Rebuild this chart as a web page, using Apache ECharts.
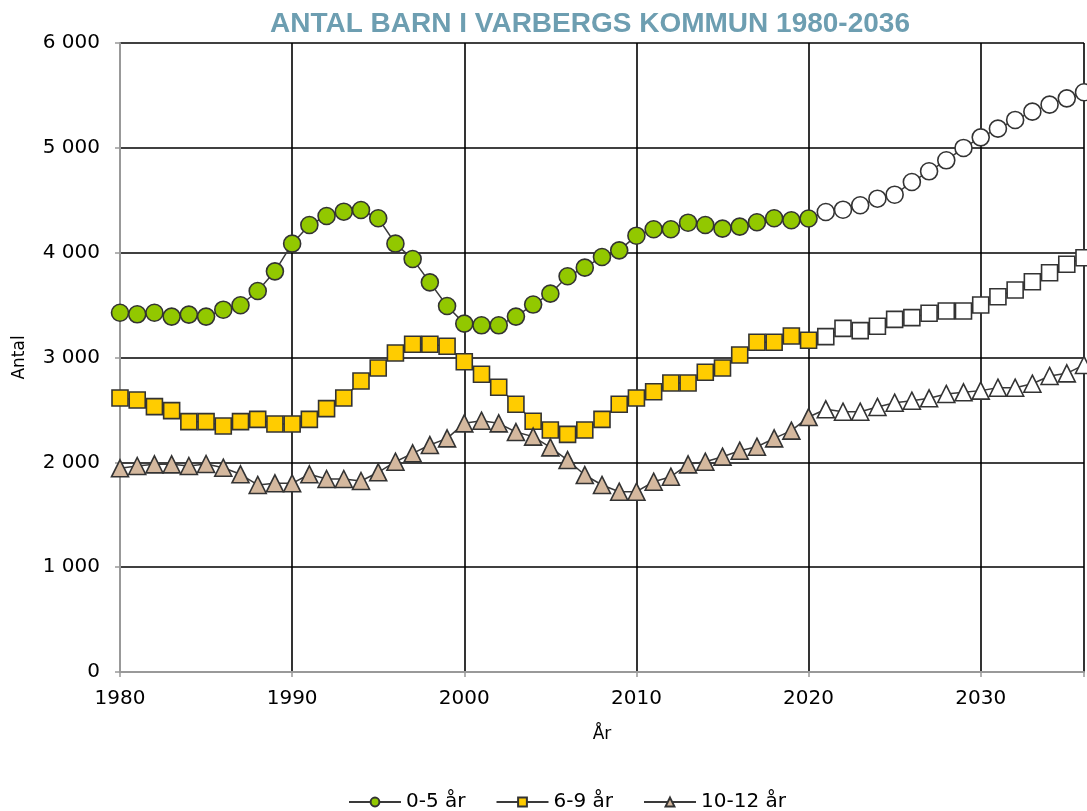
<!DOCTYPE html>
<html>
<head>
<meta charset="utf-8">
<title>Antal barn i Varbergs kommun 1980-2036</title>
<script src="https://cdn.jsdelivr.net/npm/echarts@6/dist/echarts.min.js"></script>
<style>
  html, body { margin: 0; padding: 0; background: #fff; }
  #chart { width: 1087px; height: 811px; }
</style>
</head>
<body>
<div id="chart"></div>
<script>
// år 1980-2036, prognos från 2021
var years = [];
for (var y = 1980; y <= 2036; y++) years.push(y);
var prognosStart = 2021;

var barn0_5 = [
  3427, 3412, 3427, 3390, 3409, 3390, 3456, 3498, 3634, 3822,
  4086, 4264, 4350, 4391, 4407, 4328, 4086, 3940, 3717, 3491,
  3323, 3307, 3307, 3390, 3505, 3609, 3775, 3857, 3959, 4022,
  4162, 4223, 4223, 4286, 4264, 4229, 4248, 4290, 4328, 4309,
  4326, 4388, 4410, 4452, 4515, 4553, 4674, 4776, 4881, 4999,
  5100, 5183, 5266, 5345, 5412, 5472, 5530
];
var barn6_9 = [
  2614, 2595, 2531, 2493, 2388, 2388, 2347, 2388, 2410, 2366,
  2366, 2410, 2512, 2614, 2776, 2900, 3043, 3126, 3126, 3107,
  2960, 2840, 2716, 2554, 2392, 2308, 2267, 2308, 2410, 2554,
  2614, 2674, 2757, 2757, 2859, 2900, 3024, 3145, 3145, 3205,
  3165, 3199, 3278, 3256, 3298, 3364, 3380, 3422, 3444, 3444,
  3501, 3580, 3644, 3723, 3809, 3889, 3952
];
var barn10_12 = [
  1943, 1965, 1981, 1981, 1965, 1984, 1949, 1886, 1784, 1800,
  1800, 1886, 1841, 1841, 1822, 1905, 2006, 2086, 2165, 2229,
  2372, 2397, 2372, 2289, 2245, 2143, 2022, 1879, 1784, 1720,
  1720, 1815, 1863, 1981, 2006, 2054, 2111, 2149, 2229, 2302,
  2432, 2506, 2483, 2483, 2528, 2569, 2588, 2611, 2652, 2668,
  2684, 2712, 2712, 2750, 2824, 2849, 2929
];

var labelFont = "'DejaVu Sans', 'Liberation Sans', sans-serif";

// prognosår ritas med vita markörer
function toData(values) {
  return values.map(function (v, i) {
    var item = { value: [years[i], v] };
    if (years[i] >= prognosStart) item.itemStyle = { color: "#FFFFFF" };
    return item;
  });
}

function makeSeries(name, values, symbol, size, color) {
  return {
    name: name,
    type: "line",
    data: toData(values),
    symbol: symbol,
    symbolSize: size,
    showAllSymbol: true,
    clip: false,
    animation: false,
    lineStyle: { color: "#3a3a3a", width: 1.5 },
    itemStyle: { color: color, borderColor: "#333333", borderWidth: 1.6 },
    emphasis: { disabled: true }
  };
}

var myChart = echarts.init(document.getElementById("chart"));
var option = {
  backgroundColor: "#FFFFFF",
  title: {
    text: "ANTAL BARN I VARBERGS KOMMUN 1980-2036",
    left: 585,
    textAlign: "center",
    top: 5,
    textStyle: {
      fontFamily: "'Liberation Sans Narrow', 'Arial Narrow', 'Liberation Sans', sans-serif",
      fontWeight: "bold",
      fontSize: 28,
      color: "#6D9EB1"
    }
  },
  grid: { left: 120, right: 1.5, top: 43, bottom: 139 },
  legend: {
    top: 787,
    left: 343,
    itemWidth: 52,
    itemHeight: 11,
    itemGap: 30,
    textStyle: { fontFamily: labelFont, fontSize: 20, color: "#000" },
    data: ["0-5 år", "6-9 år", "10-12 år"]
  },
  xAxis: {
    type: "value",
    min: 1980,
    max: 2036,
    interval: 10,
    name: "År",
    nameLocation: "middle",
    nameGap: 54,
    nameTextStyle: { fontFamily: labelFont, fontSize: 17, color: "#000" },
    axisLine: { show: true, onZero: false, lineStyle: { color: "#999999", width: 2 } },
    axisTick: { show: true, length: 5, lineStyle: { color: "#999999", width: 1.5 } },
    axisLabel: {
      margin: 17,
      fontFamily: labelFont,
      fontSize: 20,
      color: "#000",
      formatter: function (v) { return v % 10 === 0 ? String(v) : ""; }
    },
    splitLine: { show: true, lineStyle: { color: "#000000", width: 1.6 } }
  },
  yAxis: {
    type: "value",
    min: 0,
    max: 6000,
    interval: 1000,
    name: "Antal",
    nameLocation: "middle",
    nameGap: 92,
    nameRotate: 90,
    nameTextStyle: { fontFamily: labelFont, fontSize: 17, color: "#000" },
    axisLine: { show: true, lineStyle: { color: "#999999", width: 2 } },
    axisTick: { show: true, length: 5, lineStyle: { color: "#999999", width: 1.5 } },
    axisLabel: {
      margin: 20,
      fontFamily: labelFont,
      fontSize: 20,
      color: "#000",
      formatter: function (v) {
        return String(v).replace(/\B(?=(\d{3})+(?!\d))/g, " ");
      }
    },
    splitLine: { show: true, lineStyle: { color: "#000000", width: 1.6 } }
  },
  series: [
    makeSeries("0-5 år", barn0_5, "circle", 17, "#92C800"),
    makeSeries("6-9 år", barn6_9, "rect", 16, "#FFCC00"),
    makeSeries("10-12 år", barn10_12, "triangle", 17, "#D4B89E")
  ]
};
myChart.setOption(option);
</script>
</body>
</html>
